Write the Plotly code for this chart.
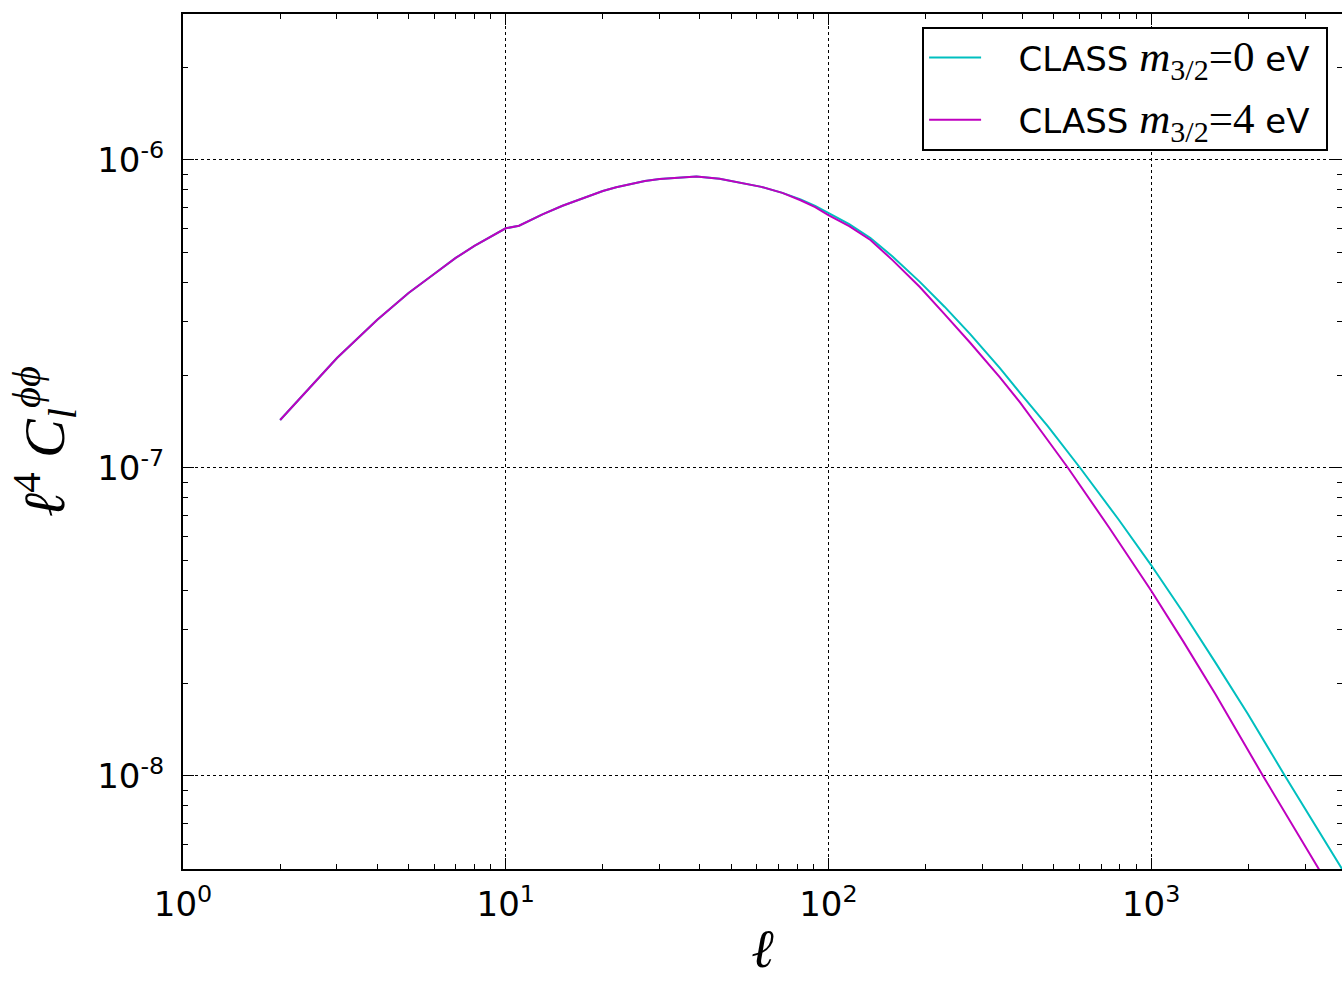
import plotly.graph_objects as go

# ---- data ----
ell_0 = [2, 3, 4, 5, 6, 7, 8, 9, 10, 11, 13, 15, 18, 20, 22, 25, 27, 30, 35, 39, 46, 52,
         62, 72, 82, 91, 100, 116, 135, 158, 192, 229, 275, 340, 393, 479, 603, 794, 1000,
         1259, 1585, 1995, 2600, 3162, 4000]
cl_0 = [1.432e-7, 2.275e-7, 3.027e-7, 3.698e-7, 4.266e-7, 4.808e-7, 5.26e-7, 5.65e-7,
        6.0e-7, 6.12e-7, 6.66e-7, 7.10e-7, 7.64e-7, 7.93e-7, 8.16e-7, 8.41e-7, 8.54e-7,
        8.68e-7, 8.80e-7, 8.84e-7, 8.69e-7, 8.49e-7, 8.18e-7, 7.82e-7, 7.45e-7, 7.10e-7,
        6.73e-7, 6.19e-7, 5.58e-7, 4.86e-7, 4.02e-7, 3.34e-7, 2.72e-7, 2.11e-7, 1.75e-7,
        1.365e-7, 1.0e-7, 6.79e-8, 4.84e-8, 3.39e-8, 2.33e-8, 1.59e-8, 1.0e-8, 7.16e-9, 4.79e-9]

ell_4 = [2, 3, 4, 5, 6, 7, 8, 9, 10, 11, 13, 15, 18, 20, 22, 25, 27, 30, 35, 39, 46, 52,
         62, 72, 82, 91, 100, 116, 135, 158, 192, 229, 275, 340, 393, 468, 553, 741, 1000,
         1259, 1585, 2223, 2818, 3316, 4000]
cl_4 = [1.432e-7, 2.275e-7, 3.027e-7, 3.698e-7, 4.266e-7, 4.808e-7, 5.26e-7, 5.65e-7,
        6.0e-7, 6.12e-7, 6.66e-7, 7.10e-7, 7.64e-7, 7.93e-7, 8.16e-7, 8.41e-7, 8.54e-7,
        8.68e-7, 8.80e-7, 8.84e-7, 8.69e-7, 8.49e-7, 8.18e-7, 7.82e-7, 7.40e-7, 7.03e-7,
        6.62e-7, 6.10e-7, 5.50e-7, 4.73e-7, 3.87e-7, 3.16e-7, 2.55e-7, 1.97e-7, 1.63e-7,
        1.27e-7, 1.0e-7, 6.41e-8, 4.0e-8, 2.73e-8, 1.84e-8, 1.0e-8, 6.6e-9, 4.97e-9, 3.58e-9]

x_tickvals = [1, 10, 100, 1000]
x_ticktext = ["10<sup>0</sup>", "10<sup>1</sup>", "10<sup>2</sup>", "10<sup>3</sup>"]
y_tickvals = [1e-8, 1e-7, 1e-6]
y_ticktext = ["10<sup>-8</sup>", "10<sup>-7</sup>", "10<sup>-6</sup>"]

SERIF = "Liberation Serif"
LEG_FMT = ("&nbsp;&nbsp;&nbsp;CLASS <span style='font-family:%s;font-size:43px'>"
           "<i>m</i><sub>3/2</sub>=%s</span> eV&nbsp;")
name_0 = LEG_FMT % (SERIF, "0")
name_4 = LEG_FMT % (SERIF, "4")

x_minor = [k * 10 ** n for n in range(0, 4) for k in range(2, 10)]
y_minor = [k * 10.0 ** n for n in range(-9, -5) for k in range(2, 10)]

fig = go.Figure()
fig.add_trace(go.Scatter(x=ell_0, y=cl_0, mode="lines", name=name_0, legendgroup="a",
                         line=dict(color="#00BFBF", width=2)))
fig.add_trace(go.Scatter(x=ell_4, y=cl_4, mode="lines", name=name_4, legendgroup="b",
                         line=dict(color="#BF00BF", width=2)))
# invisible helper trace to activate the right-hand tick axis
fig.add_trace(go.Scatter(x=ell_0, y=cl_0, mode="lines", yaxis="y2", showlegend=False,
                         hoverinfo="skip", line=dict(color="rgba(0,0,0,0)", width=0)))

XR = [0, 3.5916]
YR = [-8.302, -5.526]

fig.update_layout(
    width=1342, height=982,
    margin=dict(l=183, r=0, t=14, b=113),
    paper_bgcolor="white", plot_bgcolor="white",
    font=dict(family="DejaVu Sans", size=34, color="black"),
    showlegend=True,
    legend=dict(
        x=0.988, y=0.985, xanchor="right", yanchor="top",
        bgcolor="white", bordercolor="black", borderwidth=2,
        font=dict(family="DejaVu Sans", size=34, color="black"),
        itemwidth=52, tracegroupgap=15, traceorder="grouped",
    ),
    xaxis=dict(
        type="log", range=XR,
        tickvals=x_tickvals, ticktext=x_ticktext,
        ticks="inside", ticklen=11, tickwidth=1, tickcolor="black",
        showline=True, linecolor="black", linewidth=2, mirror="ticks",
        showgrid=True, gridcolor="black", gridwidth=1, griddash="dot",
        zeroline=False,
        minor=dict(tickvals=x_minor, ticks="inside", ticklen=5, tickcolor="black",
                   tickwidth=1, showgrid=False),
        tickfont=dict(family="DejaVu Sans", size=34, color="black"),
        ticklabelstandoff=4,
        title=dict(text="<i>ℓ</i>", font=dict(family=SERIF, size=54, color="black"),
                   standoff=6),
    ),
    yaxis=dict(
        type="log", range=YR,
        tickvals=y_tickvals, ticktext=y_ticktext,
        ticks="inside", ticklen=11, tickwidth=1, tickcolor="black",
        showline=True, linecolor="black", linewidth=2, mirror=False,
        showgrid=True, gridcolor="black", gridwidth=1, griddash="dot",
        zeroline=False,
        minor=dict(tickvals=y_minor, ticks="inside", ticklen=5, tickcolor="black",
                   tickwidth=1, showgrid=False),
        tickfont=dict(family="DejaVu Sans", size=34, color="black"),
        ticklabelstandoff=10,
        title=dict(text="<i>ℓ</i><sup>4</sup> <i>C</i><sub><i>l</i></sub><sup><i>ϕϕ</i></sup>",
                   font=dict(family=SERIF, size=58, color="black"), standoff=14),
    ),
    yaxis2=dict(
        type="log", range=YR, overlaying="y", side="right", anchor="x",
        tickvals=y_tickvals, ticks="inside", ticklen=11, tickwidth=1, tickcolor="black",
        showticklabels=False, showline=False, showgrid=False, zeroline=False,
        minor=dict(tickvals=y_minor, ticks="inside", ticklen=5, tickcolor="black",
                   tickwidth=1, showgrid=False),
    ),
)

fig.write_html("out.html")
